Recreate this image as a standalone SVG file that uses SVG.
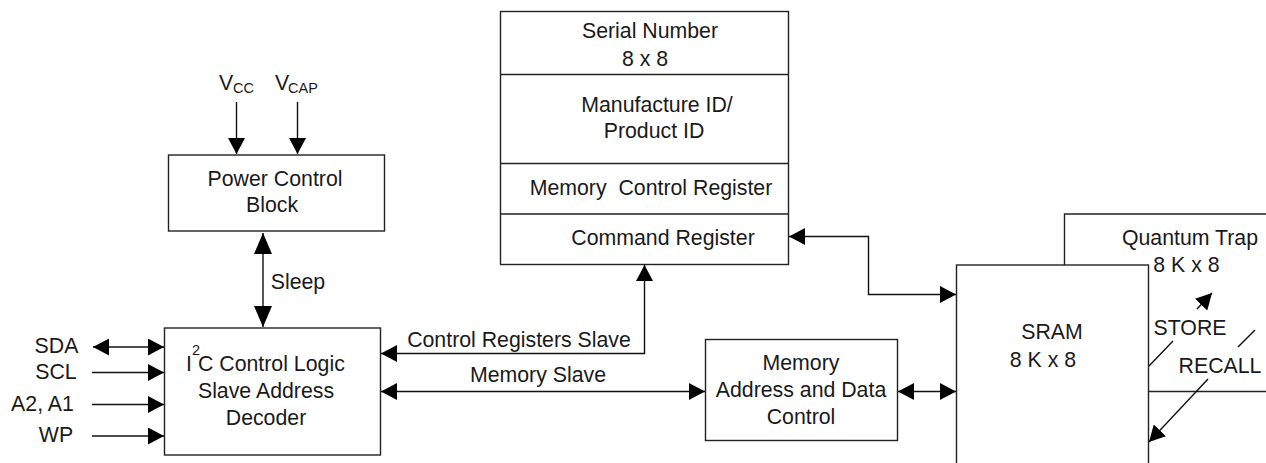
<svg xmlns="http://www.w3.org/2000/svg" width="1266" height="463" viewBox="0 0 1266 463">
<style>
text{font-family:"Liberation Sans",Arial,sans-serif;font-size:21.3px;fill:#1a1a1a;text-anchor:middle;white-space:pre}
.st{text-anchor:start}
.sub{font-size:14.5px;text-anchor:start}
.b{fill:#fff;stroke:#222;stroke-width:1.4}
.n{fill:none;stroke:#222;stroke-width:1.4}
.c path,.c line{fill:none;stroke:#111;stroke-width:1.4}
</style>
<defs>
<marker id="a" viewBox="0 0 16 16" refX="16" refY="8" markerWidth="16" markerHeight="17" markerUnits="userSpaceOnUse" orient="auto-start-reverse" preserveAspectRatio="none"><path d="M0 0L16 8L0 16Z" fill="#000"/></marker>
<marker id="t" viewBox="0 0 16 16" refX="16" refY="8" markerWidth="21" markerHeight="18" markerUnits="userSpaceOnUse" orient="auto-start-reverse" preserveAspectRatio="none"><path d="M0 0L16 8L0 16Z" fill="#000"/></marker>
</defs>
<g id="quantum-trap">
<path class="n" d="M1064.500 265V214H1266M1149 391.500H1266"/>
<text x="1190" y="245">Quantum Trap</text>
<text x="1186.500" y="272">8 K x 8</text>
</g>
<g id="sram">
<rect class="b" x="956.500" y="265" width="192" height="210"/>
<text x="1052" y="339">SRAM</text>
<text x="1043" y="367">8 K x 8</text>
</g>
<g id="power-control">
<rect class="b" x="168.500" y="155" width="216" height="76"/>
<text x="275" y="186">Power Control</text>
<text x="272" y="212">Block</text>
</g>
<g id="memory-registers">
<rect class="b" x="500.500" y="11.500" width="288" height="253"/>
<path class="n" d="M500.500 74.500H788.500M500.500 163.500H788.500M500.500 214H788.500"/>
<text x="650" y="38">Serial Number</text>
<text x="645" y="66">8 x 8</text>
<text x="657" y="112">Manufacture ID/</text>
<text x="654" y="138">Product ID</text>
<text x="651" y="195">Memory  Control Register</text>
<text x="663" y="245">Command Register</text>
</g>
<g id="i2c-control">
<rect class="b" x="164.500" y="328" width="216" height="127"/>
<text class="st" x="186" y="371">I</text>
<text class="sub" x="192" y="355">2</text>
<text class="st" x="198" y="371">C Control Logic</text>
<text x="266" y="398">Slave Address</text>
<text x="266" y="425">Decoder</text>
</g>
<g id="memory-control">
<rect class="b" x="705.500" y="339.500" width="192" height="101"/>
<text x="801" y="370">Memory</text>
<text x="801" y="397">Address and Data</text>
<text x="801" y="424">Control</text>
</g>
<g id="connectors" class="c">
<line x1="236.500" y1="102" x2="236.500" y2="154" marker-end="url(#a)"/>
<line x1="297.500" y1="102" x2="297.500" y2="154" marker-end="url(#a)"/>
<line x1="263" y1="233" x2="263" y2="327" marker-start="url(#t)" marker-end="url(#t)"/>
<line x1="93" y1="347" x2="164" y2="347" marker-start="url(#a)" marker-end="url(#a)"/>
<line x1="92" y1="372.500" x2="164" y2="372.500" marker-end="url(#a)"/>
<line x1="92" y1="404.500" x2="164" y2="404.500" marker-end="url(#a)"/>
<line x1="92" y1="436" x2="164" y2="436" marker-end="url(#a)"/>
<path d="M381 353.500H644.500V265" marker-start="url(#a)" marker-end="url(#a)"/>
<line x1="381" y1="391.500" x2="705" y2="391.500" marker-start="url(#a)" marker-end="url(#a)"/>
<line x1="898" y1="391.500" x2="956" y2="391.500" marker-start="url(#a)" marker-end="url(#a)"/>
<path d="M789 236.500H868.500V294.500H956" marker-start="url(#a)" marker-end="url(#a)"/>
<path d="M1149 366L1173 341"/>
<line x1="1197" y1="309" x2="1212" y2="293" marker-end="url(#a)"/>
<path d="M1255 330L1238 347"/>
<line x1="1208" y1="379" x2="1149" y2="442" marker-end="url(#a)"/>
</g>
<g id="labels">
<text x="298" y="289">Sleep</text>
<text x="56.500" y="353">SDA</text>
<text x="56" y="379">SCL</text>
<text x="42.500" y="411">A2, A1</text>
<text x="56" y="442">WP</text>
<text x="519" y="347">Control Registers Slave</text>
<text x="538" y="382">Memory Slave</text>
<text x="1190" y="335">STORE</text>
<text x="1220" y="373">RECALL</text>
<text class="st" x="219" y="90">V</text>
<text class="sub" x="233" y="93">CC</text>
<text class="st" x="275" y="90">V</text>
<text class="sub" x="288" y="93">CAP</text>
</g>
</svg>
